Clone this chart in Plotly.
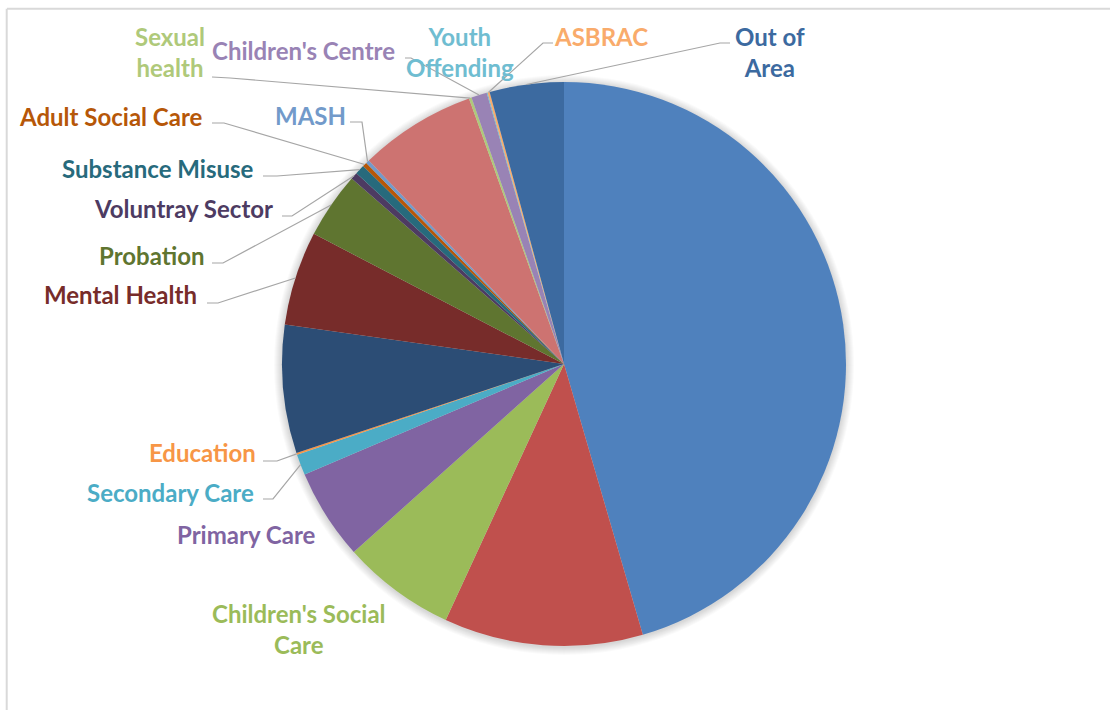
import math
import plotly.graph_objects as go

# Referral sources (clockwise from 12 o'clock) and their shares
sources = [
    "", "", "Children's Social Care", "Primary Care", "Secondary Care", "Education",
    "", "Mental Health", "Probation", "Voluntray Sector", "Substance Misuse",
    "Adult Social Care", "MASH", "", "Sexual health", "Children's Centre",
    "Youth Offending", "ASBRAC", "Out of Area",
]
shares = [
    45.5, 11.4, 6.5, 5.2, 1.2, 0.1,
    7.35, 5.4, 3.8, 0.4, 0.55,
    0.25, 0.2, 6.7, 0.15, 0.9,
    0.05, 0.12, 4.25,
]
colors = [
    "#4F81BD", "#C0504D", "#9BBB59", "#8064A2", "#4BACC6", "#F79646",
    "#2C4D75", "#772C2A", "#5F7530", "#4D3B62", "#276A7C",
    "#B65708", "#729ACA", "#CD7371", "#AFC97A", "#9983B5",
    "#6FBDD1", "#F9AB6B", "#3C6AA0",
]

W, H = 1110, 710
CX, CY, R = 564, 364, 282

# label placement: index -> (display text, x, y, xanchor, leader start, leader elbow)
label_layout = {
    2: ("Children's Social<br>Care", 299, 629, "center", None, None),
    3: ("Primary Care", 317, 534, "right", None, None),
    4: ("Secondary Care", 256, 492, "right", (263, 499), (273, 499)),
    5: ("Education", 258, 452, "right", (263, 461), (277, 461)),
    7: ("Mental Health", 199, 294, "right", (207, 303), (218, 303)),
    8: ("Probation", 206, 256, "right", (212, 263), (223, 263)),
    9: ("Voluntray Sector", 275, 208, "right", (282, 216), (292, 216)),
    10: ("Substance Misuse", 256, 168, "right", (263, 176), (277, 176)),
    11: ("Adult Social Care", 205, 116, "right", (212, 123), (224, 123)),
    12: ("MASH", 310, 115, "center", (350, 122), (362, 122)),
    14: ("Sexual<br>health", 170, 52, "center", (212, 77), (230, 78)),
    15: ("Children's Centre", 303, 50, "center", (405, 58), (411, 58)),
    16: ("Youth<br>Offending", 460, 52, "center", None, None),
    17: ("ASBRAC", 601, 36, "center", (553, 43), (543, 43)),
    18: ("Out of<br>Area", 770, 52, "center", (730, 43), (720, 43)),
}


def px(x):
    return x / W


def py(y):
    return 1 - y / H


fig = go.Figure(
    go.Pie(
        labels=[s if s else f"slice {i + 1}" for i, s in enumerate(sources)],
        values=shares,
        sort=False,
        direction="clockwise",
        rotation=0,
        marker=dict(colors=colors, line=dict(width=0)),
        textinfo="none",
        hoverinfo="label+value",
        domain=dict(x=[px(CX - R), px(CX + R)], y=[py(CY + R), py(CY - R)]),
        showlegend=False,
    )
)

shapes = []
# soft shadow around the pie
for k in range(8, 0, -1):
    rr = R + k
    shapes.append(dict(
        type="circle", xref="paper", yref="paper", layer="below",
        x0=px(CX - rr), x1=px(CX + rr), y0=py(CY + rr + 1), y1=py(CY - rr + 1),
        fillcolor="rgba(0,0,0,0.018)", line=dict(width=0),
    ))

# chart-area border (top and left edges)
shapes.append(dict(type="line", xref="paper", yref="paper", x0=px(7), x1=1.0,
                   y0=py(8.7), y1=py(8.7), line=dict(color="#D9D9D9", width=2)))
shapes.append(dict(type="line", xref="paper", yref="paper", x0=px(6.7), x1=px(6.7),
                   y0=0, y1=py(8.7), line=dict(color="#D9D9D9", width=2)))

total = sum(shares)
annotations = []
cum = 0.0
for i, v in enumerate(shares):
    mid = (cum + v / 2) / total * 2 * math.pi
    cum += v
    if i not in label_layout:
        continue
    text, tx, ty, anchor, start, elbow = label_layout[i]
    annotations.append(dict(
        text=text, x=px(tx), y=py(ty), xref="paper", yref="paper",
        xanchor=anchor, yanchor="middle", showarrow=False, align="center",
        font=dict(family="Lato", size=24, color=colors[i], weight="bold"),
    ))
    if start is not None:
        ax = CX + R * math.sin(mid)
        ay = CY - R * math.cos(mid)
        path = (f"M {px(start[0])},{py(start[1])} L {px(elbow[0])},{py(elbow[1])} "
                f"L {px(ax)},{py(ay)}")
        shapes.append(dict(type="path", xref="paper", yref="paper", path=path,
                           line=dict(color="#A6A6A6", width=1.2)))

fig.update_layout(
    width=W, height=H,
    margin=dict(l=0, r=0, t=0, b=0),
    paper_bgcolor="white",
    plot_bgcolor="white",
    shapes=shapes,
    annotations=annotations,
)

fig.write_html("out.html")
